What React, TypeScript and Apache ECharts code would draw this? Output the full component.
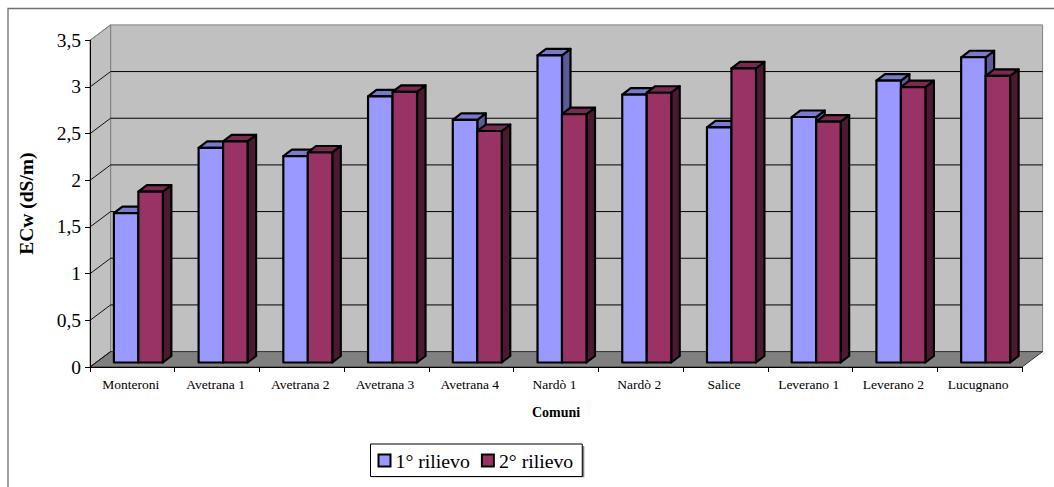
import React, { useEffect, useRef } from "react";
import * as echarts from "echarts";

const comuni = [
  "Monteroni", "Avetrana 1", "Avetrana 2", "Avetrana 3", "Avetrana 4", "Nardò 1",
  "Nardò 2", "Salice", "Leverano 1", "Leverano 2", "Lucugnano",
];
const rilievo1 = [1.6, 2.3, 2.21, 2.85, 2.6, 3.29, 2.87, 2.52, 2.63, 3.02, 3.27];
const rilievo2 = [1.83, 2.37, 2.25, 2.9, 2.48, 2.66, 2.89, 3.15, 2.58, 2.95, 3.07];
const ecwTicks = [0, 0.5, 1, 1.5, 2, 2.5, 3, 3.5];

const SERIF = "'Liberation Serif', 'Times New Roman', serif";

// Oblique projection of the 3D box: wall depth and bar depth, in pixels.
const WALL_DX = 20.6;
const WALL_DY = 15.4;
const BAR_OFF_X = 6;
const BAR_OFF_Y = 4.5;
const BAR_DX = 8.5;
const BAR_DY = 6.5;
const BAR_BAND = 0.289;

type Palette = { front: string; top: string; side: string };
const BLUE: Palette = { front: "#9999FF", top: "#7A7ACC", side: "#5B5B99" };
const MAROON: Palette = { front: "#993366", top: "#7A2952", side: "#4C1933" };

const barRenderer = (pal: Palette, seriesPos: number) => (_: any, api: any) => {
  const cat = api.value(0);
  const [cx, top] = api.coord([cat, api.value(1)]);
  const [, base] = api.coord([cat, 0]);
  const w = api.size([1, 0])[0] * BAR_BAND;
  const x0 = cx + BAR_OFF_X + (seriesPos - 1) * w;
  const x1 = x0 + w;
  const y0 = top - BAR_OFF_Y;
  const y1 = base - BAR_OFF_Y;
  const line = { stroke: "#000", lineWidth: 2.2, lineJoin: "round" };
  return {
    type: "group",
    children: [
      {
        type: "polygon",
        shape: { points: [[x1, y0], [x1 + BAR_DX, y0 - BAR_DY], [x1 + BAR_DX, y1 - BAR_DY], [x1, y1]] },
        style: { fill: pal.side, ...line },
      },
      {
        type: "polygon",
        shape: { points: [[x0, y0], [x0 + BAR_DX, y0 - BAR_DY], [x1 + BAR_DX, y0 - BAR_DY], [x1, y0]] },
        style: { fill: pal.top, ...line },
      },
      {
        type: "rect",
        shape: { x: x0, y: y0, width: w, height: y1 - y0 },
        style: { fill: pal.front, ...line },
      },
    ],
  };
};

// Back wall, left wall, floor and the gridlines that run across the walls.
const wallsRenderer = (params: any, api: any) => {
  const { x, width } = params.coordSys;
  const right = x + width;
  const base = api.coord([0, 0])[1];
  const top = api.coord([0, ecwTicks[ecwTicks.length - 1]])[1];
  const edge = { stroke: "#808080", lineWidth: 1 };
  const children: any[] = [
    {
      type: "rect",
      shape: { x: x + WALL_DX, y: top - WALL_DY, width, height: base - top },
      style: { fill: "#C0C0C0", ...edge },
    },
    {
      type: "polygon",
      shape: { points: [[x, top], [x + WALL_DX, top - WALL_DY], [x + WALL_DX, base - WALL_DY], [x, base]] },
      style: { fill: "#C0C0C0", ...edge },
    },
    {
      type: "polygon",
      shape: { points: [[x, base], [x + WALL_DX, base - WALL_DY], [right + WALL_DX, base - WALL_DY], [right, base]] },
      style: { fill: "#808080", stroke: "#333", lineWidth: 1 },
    },
  ];
  ecwTicks.forEach((t) => {
    const y = api.coord([0, t])[1];
    if (t > 0 && t < ecwTicks[ecwTicks.length - 1]) {
      children.push({
        type: "line",
        shape: { x1: x + WALL_DX, y1: y - WALL_DY, x2: right + WALL_DX, y2: y - WALL_DY },
        style: { stroke: "#000", lineWidth: 1 },
      });
    }
    if (t < ecwTicks[ecwTicks.length - 1]) {
      children.push({
        type: "line",
        shape: { x1: x, y1: y, x2: x + WALL_DX, y2: y - WALL_DY },
        style: { stroke: "#111", lineWidth: 1 },
      });
    }
  });
  children.push({
    type: "line",
    shape: { x1: x, y1: top, x2: x + WALL_DX, y2: top - WALL_DY },
    style: { stroke: "#808080", lineWidth: 1 },
  });
  return { type: "group", children };
};

export default function App() {
  const ref = useRef<HTMLDivElement>(null);

  useEffect(() => {
    document.body.style.margin = "0";
    const chart = echarts.init(ref.current!, undefined, { renderer: "svg" });
    chart.setOption({
      animation: false,
      backgroundColor: "#fff",
      textStyle: { fontFamily: SERIF },
      grid: { left: 90, top: 40.3, width: 932, height: 326.7, containLabel: false },
      xAxis: {
        type: "category",
        data: comuni,
        z: 3,
        name: "Comuni",
        nameLocation: "middle",
        nameGap: 38,
        nameTextStyle: { fontFamily: SERIF, fontSize: 14, fontWeight: "bold", color: "#000" },
        axisLine: { lineStyle: { color: "#000", width: 1 } },
        axisTick: { show: true, length: 5, lineStyle: { color: "#000" } },
        axisLabel: { fontFamily: SERIF, fontSize: 13.5, color: "#000", margin: 10, interval: 0, padding: [0, 3, 0, 0] },
        splitLine: { show: false },
      },
      yAxis: {
        type: "value",
        min: 0,
        max: 3.5,
        interval: 0.5,
        z: 3,
        name: "ECw (dS/m)",
        nameLocation: "middle",
        nameRotate: 90,
        nameGap: 54,
        nameTextStyle: { fontFamily: SERIF, fontSize: 19.5, fontWeight: "bold", color: "#000" },
        axisLine: { show: true, lineStyle: { color: "#000", width: 1 } },
        axisTick: { show: true, length: 5, lineStyle: { color: "#000" } },
        axisLabel: {
          fontFamily: SERIF,
          fontSize: 19.5,
          color: "#000",
          margin: 9,
          formatter: (v: number) => String(v).replace(".", ","),
        },
        splitLine: { show: false },
      },
      legend: {
        left: 370.5,
        top: 444,
        padding: [6.5, 9, 6, 7],
        backgroundColor: "#fff",
        borderColor: "#000",
        borderWidth: 1,
        itemWidth: 12,
        itemHeight: 12,
        itemGap: 11,
        selectedMode: false,
        textStyle: { fontFamily: SERIF, fontSize: 19.8, color: "#000" },
        data: [
          { name: "1° rilievo", icon: "rect", itemStyle: { color: BLUE.front, borderColor: "#000", borderWidth: 2 } },
          { name: "2° rilievo", icon: "rect", itemStyle: { color: MAROON.front, borderColor: "#000", borderWidth: 2 } },
        ],
      },
      graphic: [
        {
          type: "polyline",
          z: -1,
          shape: { points: [[8, 488], [8, 8.5], [1055, 8.5]] },
          style: { fill: "none", stroke: "#707070", lineWidth: 1.3 },
        },
        {
          type: "rect",
          z: 0,
          shape: { x: 372, y: 446, width: 212.3, height: 31.3 },
          style: { fill: "#808080" },
        },
      ],
      series: [
        {
          type: "custom",
          name: "pareti",
          z: 1,
          silent: true,
          clip: false,
          renderItem: wallsRenderer,
          data: [[0, 0]],
        },
        {
          type: "custom",
          name: "1° rilievo",
          z: 2,
          clip: false,
          itemStyle: { color: BLUE.front },
          renderItem: barRenderer(BLUE, 0),
          encode: { x: 0, y: 1 },
          data: rilievo1.map((v, i) => [i, v]),
        },
        {
          type: "custom",
          name: "2° rilievo",
          z: 2,
          clip: false,
          itemStyle: { color: MAROON.front },
          renderItem: barRenderer(MAROON, 1),
          encode: { x: 0, y: 1 },
          data: rilievo2.map((v, i) => [i, v]),
        },
      ],
    });
    return () => chart.dispose();
  }, []);

  return (
    <div
      ref={ref}
      style={{ position: "absolute", left: 0, top: 0, width: 1054, height: 487, background: "#fff" }}
    />
  );
}
